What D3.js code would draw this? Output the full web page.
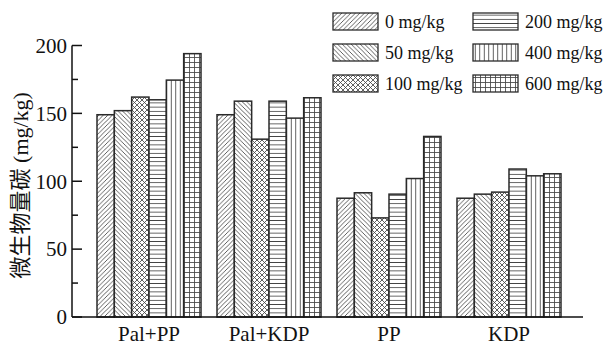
<!DOCTYPE html>
<html>
<head>
<meta charset="utf-8">
<script src="https://cdn.jsdelivr.net/npm/d3@7/dist/d3.min.js"></script>
<style>
  html, body { margin: 0; padding: 0; background: #fff; }
  svg { display: block; }
  svg text { font-family: "Liberation Serif", "Times New Roman", Tinos, "DejaVu Serif", serif; fill: #111; }
  svg text.ytitle { font-family: "Liberation Serif", "Times New Roman", Tinos, "DejaVu Serif", "Noto Sans CJK SC", serif; }
</style>
</head>
<body>
<svg id="chart" width="607" height="346"></svg>
<script>
// Treatments on the x axis
const groups = ["Pal+PP", "Pal+KDP", "PP", "KDP"];
// Application rates (one bar per rate inside each treatment)
const doses = ["0 mg/kg", "50 mg/kg", "100 mg/kg", "200 mg/kg", "400 mg/kg", "600 mg/kg"];
// Microbial biomass carbon, mg/kg, per dose in each treatment
const dose0   = [149, 149, 87.5, 87.5];
const dose50  = [152, 159, 91.5, 90.5];
const dose100 = [162, 131, 73, 92];
const dose200 = [160, 159, 90.5, 109];
const dose400 = [174.5, 146.5, 102, 104];
const dose600 = [194, 161.5, 133, 105.5];
const series = [dose0, dose50, dose100, dose200, dose400, dose600];
const yTicks = [0, 50, 100, 150, 200];
const yMinorTicks = [25, 75, 125, 175];

const svg = d3.select("#chart");
const plotLeft = 72, plotRight = 583, plotTop = 45.5, plotBottom = 317;

const x = d3.scaleBand().domain(groups).range([89, 569])
  .paddingInner(0.1333).paddingOuter(0.0667);
const xi = d3.scaleBand().domain(doses).range([0, x.bandwidth()]);
const y = d3.scaleLinear().domain([0, 200]).range([plotBottom, plotTop]);

// Hatch fills, one per dose
const defs = svg.append("defs");
const ink = "#444";
function pat(id, size, paths) {
  const p = defs.append("pattern").attr("id", id)
    .attr("patternUnits", "userSpaceOnUse")
    .attr("width", size).attr("height", size);
  p.append("rect").attr("width", size).attr("height", size).attr("fill", "#fff");
  paths.forEach(d => p.append("path").attr("d", d)
    .attr("stroke", ink).attr("stroke-width", 0.85).attr("fill", "none"));
}
const s = 4.5;
pat("p0", s, [`M0,${s} L${s},0 M${-s/2},${s/2} L${s/2},${-s/2} M${s/2},${s*1.5} L${s*1.5},${s/2}`]);
pat("p1", s, [`M0,0 L${s},${s} M${-s/2},${s/2} L${s/2},${s*1.5} M${s/2},${-s/2} L${s*1.5},${s/2}`]);
pat("p2", 5, ["M0,5 L5,0 M-2.5,2.5 L2.5,-2.5 M2.5,7.5 L7.5,2.5",
              "M0,0 L5,5 M-2.5,2.5 L2.5,7.5 M2.5,-2.5 L7.5,2.5"]);
pat("p3", 4.2, ["M0,2.1 L4.2,2.1"]);
pat("p4", 4.5, ["M2.25,0 L2.25,4.5"]);
pat("p5", 5, ["M0,2.5 L5,2.5", "M2.5,0 L2.5,5"]);

// Bars
const gGroups = svg.append("g").selectAll("g").data(groups).join("g")
  .attr("transform", d => `translate(${x(d)},0)`);
gGroups.selectAll("rect")
  .data((g, gi) => doses.map((dose, di) => ({ dose, di, v: series[di][gi] })))
  .join("rect")
  .attr("x", d => xi(d.dose))
  .attr("y", d => y(d.v))
  .attr("width", xi.bandwidth())
  .attr("height", d => y(0) - y(d.v))
  .attr("fill", d => `url(#p${d.di})`)
  .attr("stroke", "#2a2a2a")
  .attr("stroke-width", 1.5);

// Y axis with inward ticks
const yAxis = svg.append("g").attr("transform", `translate(${plotLeft},0)`);
yAxis.append("line").attr("x1", 0).attr("x2", 0)
  .attr("y1", y(200)).attr("y2", y(0)).attr("stroke", "#111").attr("stroke-width", 1.5);
yAxis.selectAll(".major").data(yTicks).join("line")
  .attr("x1", 0).attr("x2", 10).attr("y1", d => y(d)).attr("y2", d => y(d))
  .attr("stroke", "#111").attr("stroke-width", 1.5);
yAxis.selectAll(".minor").data(yMinorTicks).join("line")
  .attr("x1", 0).attr("x2", 6).attr("y1", d => y(d)).attr("y2", d => y(d))
  .attr("stroke", "#111").attr("stroke-width", 1.5);
yAxis.selectAll("text").data(yTicks).join("text")
  .attr("x", -5).attr("y", d => y(d)).attr("dy", "0.35em")
  .attr("text-anchor", "end").attr("font-size", 21).text(d => d);

// X axis baseline and category labels
svg.append("line").attr("x1", plotLeft).attr("x2", plotRight)
  .attr("y1", y(0)).attr("y2", y(0)).attr("stroke", "#111").attr("stroke-width", 1.5);
svg.append("g").selectAll("text").data(groups).join("text")
  .attr("x", d => x(d) + x.bandwidth() / 2).attr("y", 341)
  .attr("text-anchor", "middle").attr("font-size", 21).text(d => d);

// Y axis title
svg.append("text").attr("class", "ytitle")
  .attr("transform", `translate(28,${(plotTop + plotBottom) / 2 + 4}) rotate(-90)`)
  .attr("text-anchor", "middle").attr("font-size", 22)
  .text("微生物量碳 (mg/kg)");

// Legend: two columns of three
const legend = svg.append("g");
const items = legend.selectAll("g").data(doses).join("g")
  .attr("transform", (d, i) => `translate(${i < 3 ? 333 : 473},${13 + (i % 3) * 31})`);
items.append("rect").attr("width", 45).attr("height", 17)
  .attr("fill", (d, i) => `url(#p${i})`).attr("stroke", "#2a2a2a").attr("stroke-width", 1.3);
items.append("text").attr("x", 52).attr("y", 15).attr("font-size", 18).text(d => d);
</script>
</body>
</html>
